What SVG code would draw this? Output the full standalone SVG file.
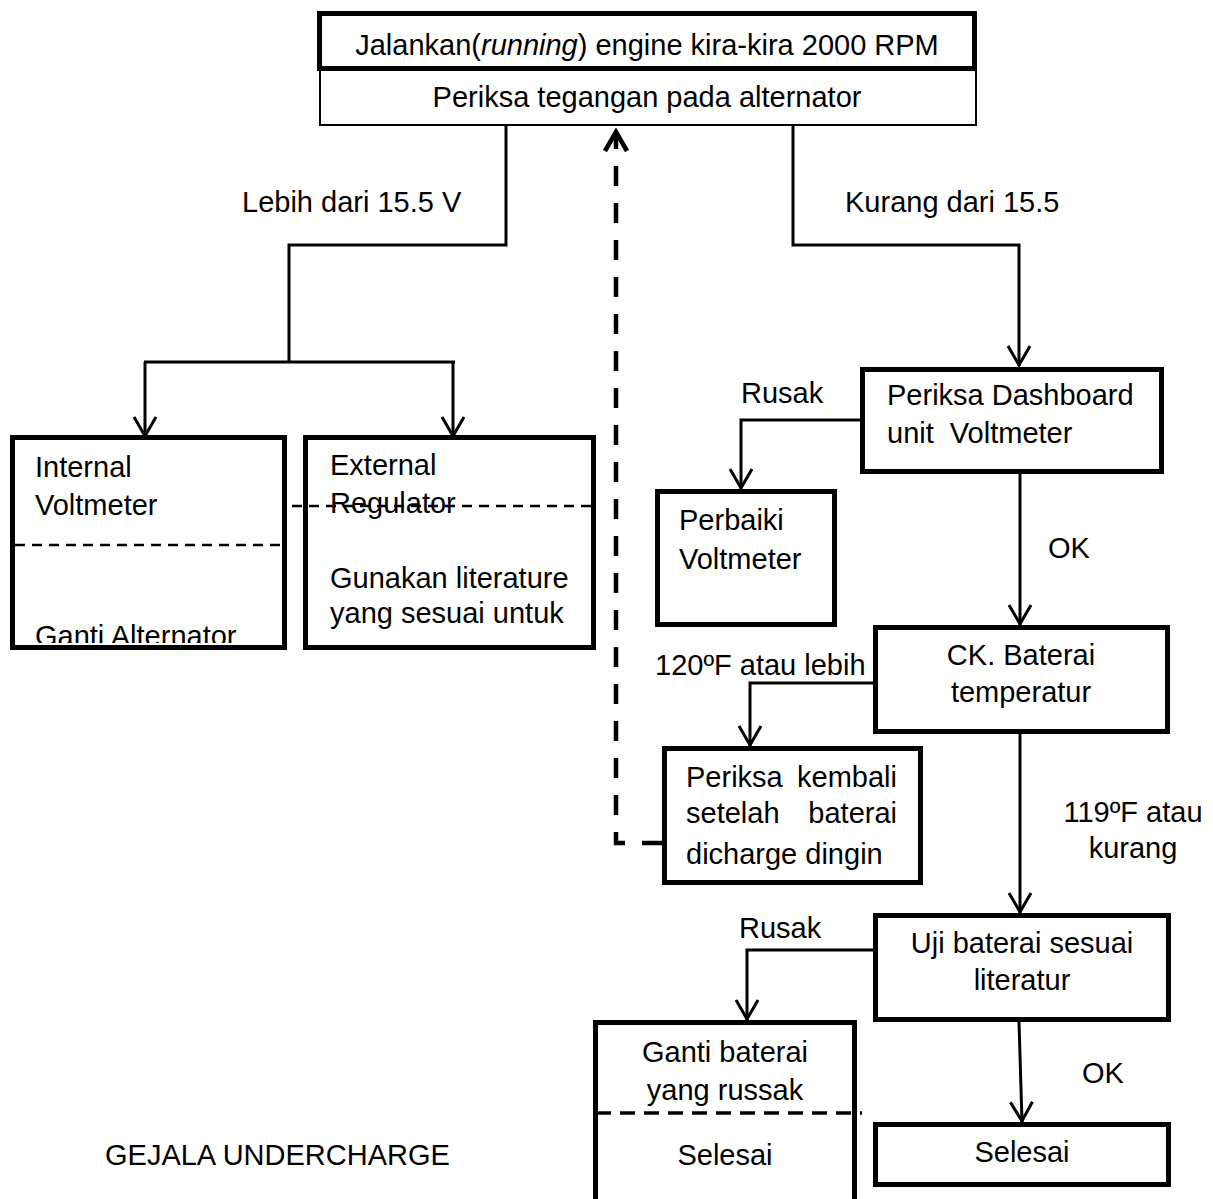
<svg xmlns="http://www.w3.org/2000/svg" width="1213" height="1199" viewBox="0 0 1213 1199">
<style>
text{font-family:"Liberation Sans",Arial,sans-serif;font-size:29px;fill:#000}
.c{text-anchor:middle}
.e{text-anchor:end}
.box{fill:#fff;stroke:#000;stroke-width:5}
.thin{fill:#fff;stroke:#000;stroke-width:2}
.ln{fill:none;stroke:#000;stroke-width:3}
.dl{fill:none;stroke:#000;stroke-width:2.6;stroke-dasharray:10 7}
.dl2{fill:none;stroke:#000;stroke-width:3.5;stroke-dasharray:15 9}
.loop{fill:none;stroke:#000;stroke-width:4.5;stroke-dasharray:20 17}
</style>
<defs>
<marker id="arr" markerUnits="userSpaceOnUse" viewBox="-26 -15 30 30" refX="0" refY="0" markerWidth="30" markerHeight="30" orient="auto" overflow="visible">
<path d="M-20,-11 L-1,0 L-20,11" fill="none" stroke="#000" stroke-width="3"/>
</marker>
<marker id="arr2" markerUnits="userSpaceOnUse" viewBox="-26 -15 30 30" refX="0" refY="0" markerWidth="30" markerHeight="30" orient="auto" overflow="visible">
<path d="M-20,-11 L-1,0 L-20,11" fill="none" stroke="#000" stroke-width="4.5"/>
</marker>
<clipPath id="clipInt"><rect x="15" y="440" width="267" height="203"/></clipPath>
<clipPath id="clipExt"><rect x="308" y="440" width="283" height="203"/></clipPath>
</defs>
<rect width="1213" height="1199" fill="#fff"/>

<g id="connectors">
<path class="ln" d="M506,125 V245 H289 V362"/>
<path class="ln" d="M144,362 H455"/>
<path class="ln" d="M145,362 V437" marker-end="url(#arr)"/>
<path class="ln" d="M453,362 V437" marker-end="url(#arr)"/>
<path class="ln" d="M793,125 V245 H1019 V366" marker-end="url(#arr)"/>
<path class="ln" d="M862,420 H741 V489" marker-end="url(#arr)"/>
<path class="ln" d="M1020,474 V625" marker-end="url(#arr)"/>
<path class="ln" d="M875,683 H750 V746" marker-end="url(#arr)"/>
<path class="ln" d="M1020,734 V913" marker-end="url(#arr)"/>
<path class="ln" d="M875,950 H747 V1020" marker-end="url(#arr)"/>
<path class="ln" d="M1019,1022 L1022,1122" marker-end="url(#arr)"/>
<path class="loop" d="M662,843 H616 V131" marker-end="url(#arr2)"/>
<text x="242" y="212">Lebih dari 15.5 V</text>
<text x="845" y="212">Kurang dari 15.5</text>
<text x="741" y="403">Rusak</text>
<text x="1048" y="558">OK</text>
<text x="655" y="675">120ºF atau lebih</text>
<text class="c" x="1133" y="822">119ºF atau</text>
<text class="c" x="1133" y="858">kurang</text>
<text x="739" y="938">Rusak</text>
<text x="1082" y="1083">OK</text>
</g>

<g id="n-start">
<rect class="thin" x="320" y="69" width="656" height="56"/>
<rect class="box" x="319.5" y="13.5" width="655" height="55"/>
<text class="c" x="647" y="55">Jalankan(<tspan font-style="italic">running</tspan>) engine kira-kira 2000 RPM</text>
<text class="c" x="647" y="107">Periksa tegangan pada alternator</text>
</g>

<g id="n-internal">
<rect class="box" x="12.5" y="437.5" width="272" height="210"/>
<text x="35" y="477">Internal</text>
<text x="35" y="515">Voltmeter</text>
<line class="dl" x1="15" y1="545" x2="282" y2="545"/>
<text x="35" y="646" clip-path="url(#clipInt)">Ganti Alternator</text>
</g>

<g id="n-external">
<rect class="box" x="305.5" y="437.5" width="288" height="210"/>
<text x="330" y="475">External</text>
<text x="330" y="513">Regulator</text>
<line class="dl" x1="292" y1="506" x2="596" y2="506"/>
<text x="330" y="588">Gunakan literature</text>
<text x="330" y="623">yang sesuai untuk</text>
</g>

<g id="n-dashboard">
<rect class="box" x="862.5" y="369.5" width="299" height="102"/>
<text x="887" y="405">Periksa Dashboard</text>
<text x="887" y="443" xml:space="preserve">unit  Voltmeter</text>
</g>

<g id="n-perbaiki">
<rect class="box" x="657.5" y="491.5" width="177" height="133"/>
<text x="679" y="530">Perbaiki</text>
<text x="679" y="569">Voltmeter</text>
</g>

<g id="n-ck">
<rect class="box" x="875.5" y="627.5" width="292" height="104"/>
<text class="c" x="1021" y="665">CK. Baterai</text>
<text class="c" x="1021" y="702">temperatur</text>
</g>

<g id="n-kembali">
<rect class="box" x="664.5" y="748.5" width="256" height="134"/>
<text y="787"><tspan x="686">Periksa</tspan> <tspan x="897" text-anchor="end">kembali</tspan></text>
<text y="823"><tspan x="686">setelah</tspan> <tspan x="897" text-anchor="end">baterai</tspan></text>
<text x="686" y="864">dicharge dingin</text>
</g>

<g id="n-uji">
<rect class="box" x="875.5" y="915.5" width="293" height="104"/>
<text class="c" x="1022" y="953">Uji baterai sesuai</text>
<text class="c" x="1022" y="990">literatur</text>
</g>

<g id="n-ganti">
<rect class="box" x="595.5" y="1022.5" width="259" height="200"/>
<text class="c" x="725" y="1062">Ganti baterai</text>
<text class="c" x="725" y="1100">yang russak</text>
<line class="dl2" x1="596" y1="1113" x2="862" y2="1113"/>
<text class="c" x="725" y="1165">Selesai</text>
</g>

<g id="n-selesai">
<rect class="box" x="875.5" y="1124.5" width="293" height="60"/>
<text class="c" x="1022" y="1162">Selesai</text>
</g>

<g id="title">
<text x="105" y="1165">GEJALA UNDERCHARGE</text>
</g>
</svg>
